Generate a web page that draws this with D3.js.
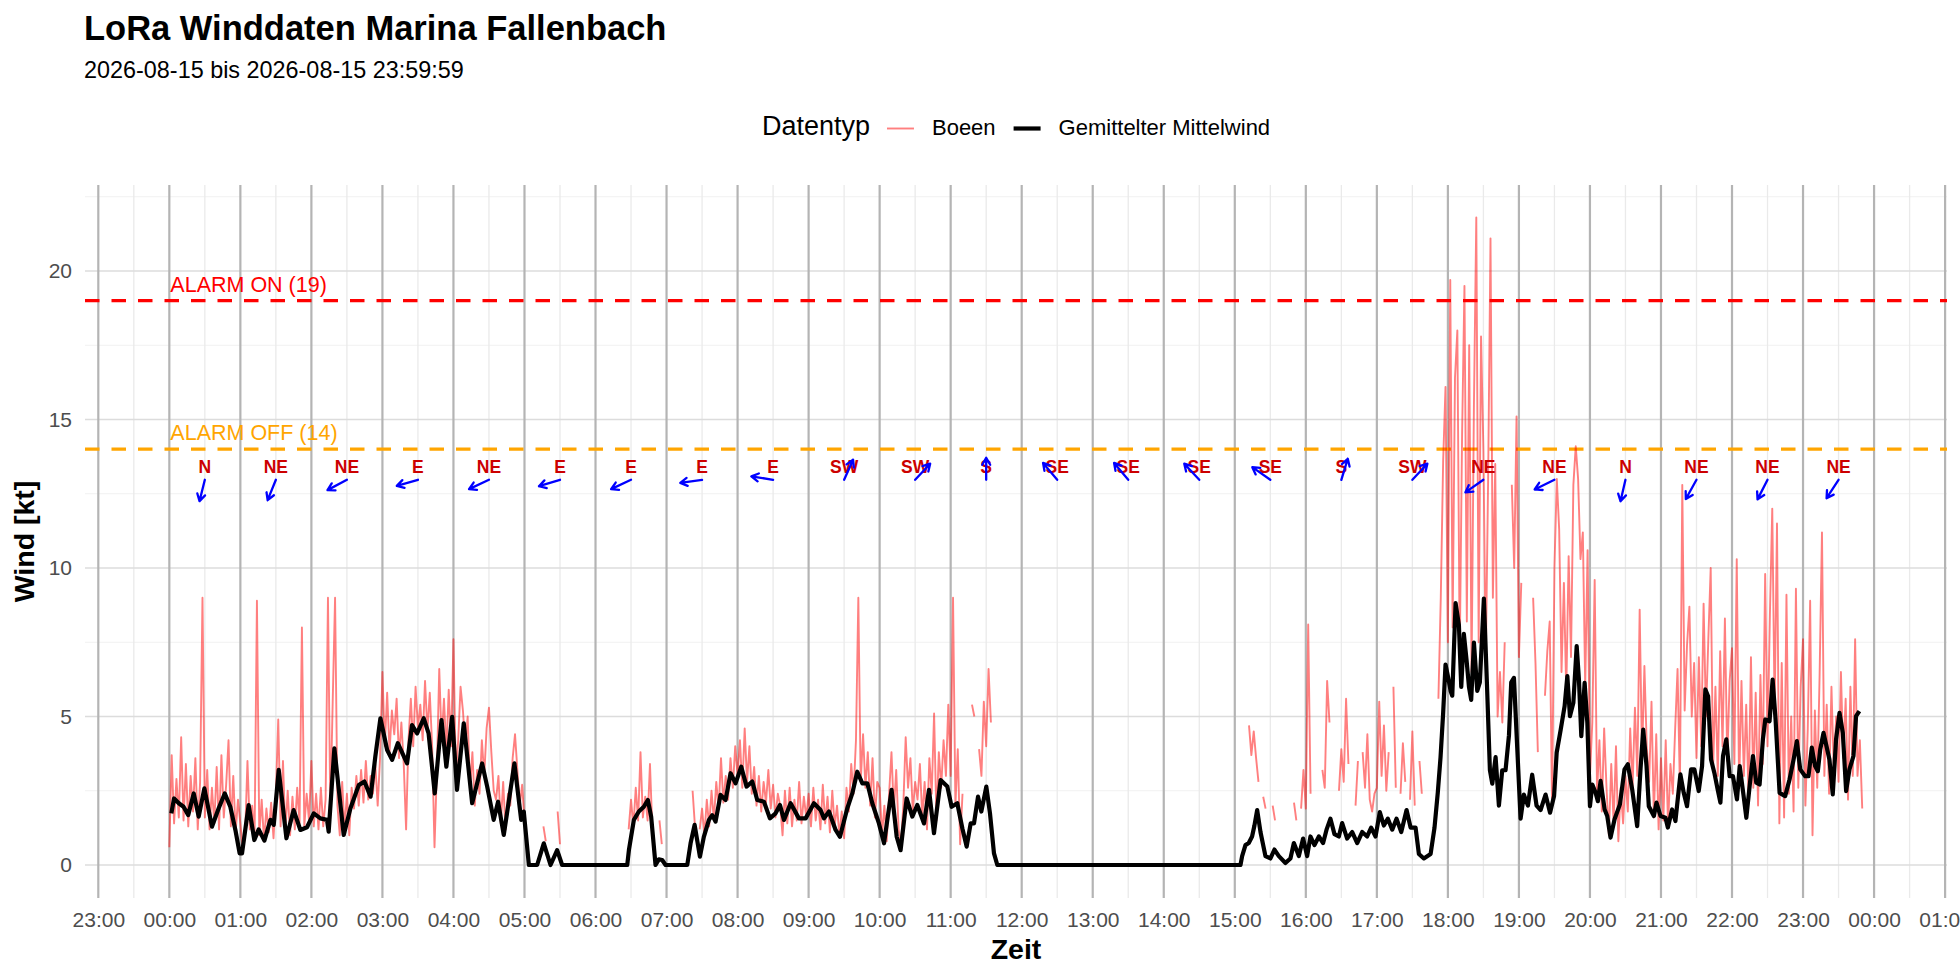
<!DOCTYPE html>
<html>
<head>
<meta charset="utf-8">
<title>LoRa Winddaten Marina Fallenbach</title>
<script src="https://cdn.jsdelivr.net/npm/d3@7"></script>
<style>
  html, body { margin: 0; padding: 0; background: #fff; }
  svg { display: block; font-family: "Liberation Sans", Arial, Helvetica, sans-serif; }
</style>
</head>
<body>
<svg id="chart" width="1960" height="980"></svg>
<script>
var NA = null;

// ---- data -----------------------------------------------------------------
var titleText = "LoRa Winddaten Marina Fallenbach",
    subtitleText = "2026-08-15 bis 2026-08-15 23:59:59",
    legendTitle = "Datentyp",
    seriesNames = ["Boeen", "Gemittelter Mittelwind"];

var alarmOn = 19,
    alarmOff = 14;

var yTicks = [0, 5, 10, 15, 20],
    yMinor = [2.5, 7.5, 12.5, 17.5, 22.5];

var xTickLabels = ["23:00", "00:00", "01:00", "02:00", "03:00", "04:00", "05:00",
    "06:00", "07:00", "08:00", "09:00", "10:00", "11:00", "12:00", "13:00", "14:00",
    "15:00", "16:00", "17:00", "18:00", "19:00", "20:00", "21:00", "22:00", "23:00",
    "00:00", "01:00"];

// gusts [kt], one value every 2 minutes from 00:00, one row per hour
var gustStepMin = 2;
var gustKt = [
    0.6, 3.7, 1.4, 2.9, 1.6, 4.3, 1.5, 3.4, 1.3, 3.0, 1.8, 3.6, 1.2, 2.8, 9.0, 1.6, 3.2, 1.2, 2.6, 1.4, 3.3, 1.2, 3.7, 1.6, 2.7, 4.2, 1.3, 3.0, 1.1, 2.2, // 00
    1.4, 0.5, 1.0, 3.5, 1.2, 2.0, 0.9, 8.9, 1.0, 2.2, 0.8, 1.9, 1.1, 2.1, 0.9, 2.4, 4.9, 1.3, 3.5, 1.1, 2.5, 1.0, 2.3, 1.2, 2.6, 1.4, 8.0, 1.3, 2.4, 1.5, // 01
    3.5, 1.3, 2.4, 1.2, 2.6, 1.3, 2.2, 9.0, 1.8, 5.5, 9.0, 2.0, 1.0, 2.8, 1.2, 2.4, 1.0, 2.6, 1.9, 3.0, 2.0, 3.2, 2.1, 3.5, 2.2, 3.0, 2.4, 3.4, 2.0, 3.6, // 02
    6.5, 4.0, 5.8, 3.8, 5.2, 4.4, 5.6, 3.6, 4.8, 3.4, 1.2, 4.2, 5.6, 4.0, 6.0, 4.6, 5.4, 4.2, 6.2, 4.5, 5.8, 4.0, 0.6, 3.2, 6.6, 4.2, 5.6, 3.8, 5.9, 4.0, // 03
    7.6, 3.0, 4.2, 6.0, 5.2, 4.0, 5.0, 2.6, 3.8, 2.0, 3.2, 2.4, 4.2, 3.0, 4.6, 5.3, 3.8, 2.5, 2.2, 3.0, 1.4, 2.8, 1.2, 2.4, 2.0, 3.6, 4.4, 3.2, 2.0, 2.7, // 04
    1.5, 0.7, NA, NA, NA, NA, NA, NA, 1.3, 0.8, NA, NA, NA, NA, 1.8, 0.7, NA, NA, NA, NA, NA, NA, NA, NA, NA, NA, NA, NA, NA, NA, // 05
    NA, NA, NA, NA, NA, NA, NA, NA, NA, NA, NA, NA, NA, NA, 1.2, 2.2, 1.3, 2.6, 1.5, 3.8, 1.6, 2.3, 1.5, 3.4, 1.2, NA, NA, 1.5, 0.7, NA, // 06
    NA, NA, NA, NA, NA, NA, NA, NA, NA, NA, NA, 2.5, 1.3, NA, 1.2, 1.9, 1.0, 2.2, 1.3, 2.5, 1.5, 2.8, 1.9, 3.6, 2.1, 3.0, 2.2, 3.6, 2.6, 4.0, // 07
    3.0, 4.2, 2.6, 4.6, 2.8, 4.0, 2.4, 3.3, 2.0, 3.0, 1.8, 2.8, 2.1, 3.2, 1.9, 2.7, 1.6, 2.4, 2.0, 1.0, 2.5, 1.4, 2.6, 1.3, 2.2, 1.5, 2.8, 1.4, 2.3, 1.6, // 08
    2.4, 1.3, 2.6, 1.5, 2.2, 1.2, 2.7, 1.4, 2.3, 1.1, 2.5, 1.3, 2.0, 1.0, 1.8, 0.9, 2.6, 1.8, 3.4, 2.4, 4.2, 9.0, 2.8, 4.4, 2.6, 3.8, 2.0, 3.6, 1.6, 2.8, // 09
    2.6, 1.0, 2.0, 0.8, 2.4, 3.8, 1.8, 3.2, 1.2, 0.7, 2.0, 4.3, 2.6, 3.6, 1.8, 2.8, 2.2, 3.4, 1.6, 2.8, 1.2, 3.6, 2.4, 5.1, 1.5, 3.8, 2.6, 4.2, 3.0, 5.4, // 10
    3.0, 9.0, 2.0, 3.9, 0.7, 2.4, NA, NA, NA, 5.4, 5.0, NA, 3.9, 3.0, 5.5, 4.0, 6.6, 4.8, NA, NA, NA, NA, NA, NA, NA, NA, NA, NA, NA, NA, // 11
    NA, NA, NA, NA, NA, NA, NA, NA, NA, NA, NA, NA, NA, NA, NA, NA, NA, NA, NA, NA, NA, NA, NA, NA, NA, NA, NA, NA, NA, NA, // 12
    NA, NA, NA, NA, NA, NA, NA, NA, NA, NA, NA, NA, NA, NA, NA, NA, NA, NA, NA, NA, NA, NA, NA, NA, NA, NA, NA, NA, NA, NA, // 13
    NA, NA, NA, NA, NA, NA, NA, NA, NA, NA, NA, NA, NA, NA, NA, NA, NA, NA, NA, NA, NA, NA, NA, NA, NA, NA, NA, NA, NA, NA, // 14
    NA, NA, NA, NA, NA, NA, 4.7, 3.7, 4.5, 3.6, 2.8, NA, 2.3, 1.9, NA, NA, 2.0, 1.5, NA, NA, NA, NA, NA, NA, NA, 2.1, 1.5, NA, 1.9, 3.2, // 15
    1.9, 8.1, 2.4, NA, NA, NA, NA, 3.2, 2.6, 6.2, 4.8, NA, NA, NA, 2.5, 3.9, 2.8, 5.6, 3.4, NA, NA, 2.0, 3.5, NA, 3.8, 2.6, 4.4, 2.2, 1.8, 2.4, // 16
    2.6, 5.5, 3.0, 4.7, 2.5, 3.8, NA, 6.0, 2.6, NA, 2.4, 4.1, 2.8, NA, 2.2, 4.5, 2.0, NA, 3.5, 2.4, NA, NA, NA, NA, NA, NA, 5.6, 9.0, 13.6, 16.1, // 17
    7.5, 19.7, 8.0, 16.4, 18.0, 7.0, 14.5, 19.5, 8.2, 17.5, 6.5, 15.5, 21.8, 7.5, 17.8, 14.0, 6.8, 13.0, 21.1, 9.0, 13.5, 5.0, 6.5, 4.8, 7.5, NA, NA, 12.8, 10.0, 15.1, // 18
    7.0, 9.5, NA, NA, NA, NA, 9.0, 6.8, 3.8, NA, NA, 5.7, 7.2, 8.2, 2.0, 10.0, 13.0, 11.3, 6.5, 9.5, 5.8, 10.4, 7.0, 12.8, 14.1, 13.0, 10.3, 11.2, 6.0, 10.6, // 19
    3.0, 4.8, 9.6, 2.4, 4.2, 1.8, 4.6, 2.6, 1.0, 3.4, 1.4, 4.0, 0.8, 2.6, 1.4, 3.0, 1.8, 4.6, 2.6, 5.3, 3.0, 8.6, 3.6, 6.7, 4.0, 2.8, 5.5, 1.6, 4.4, 1.2, // 20
    3.6, 1.5, 4.2, 1.3, 3.4, 2.4, 4.6, 6.6, 2.6, 12.8, 5.2, 7.4, 8.7, 5.0, 6.8, 3.6, 7.0, 4.0, 8.8, 5.0, 7.6, 10.0, 3.2, 6.0, 3.0, 7.2, 4.0, 8.3, 3.5, 6.2, // 21
    7.3, 3.4, 10.3, 2.6, 6.2, 3.0, 5.4, 2.2, 7.0, 2.6, 5.8, 2.0, 6.4, 3.4, 9.8, 4.0, 8.4, 12.0, 5.2, 11.5, 1.4, 6.8, 1.6, 9.1, 2.4, 5.0, 1.8, 9.3, 2.6, 6.0, // 22
    7.6, 2.0, 4.6, 8.9, 1.0, 5.2, 2.6, 6.4, 11.2, 3.0, 5.4, 2.4, 6.0, 3.2, 5.0, 2.8, 6.5, 3.6, 5.6, 2.2, 6.0, 3.0, 7.6, 3.0, 4.2, 1.9, NA, NA, NA, NA  // 23
];

// averaged mean wind: minute of day / value [kt]
var meanMin = [
    1.7, 4, 8, 12, 16, 20.6, 24.8, 29.6, 36, 41.7, 46.8, 51.5, 55.8, 59.4, 61.4, 67, 71.8, 75.5, 80.3, 85.4,
    88.2, 92.4, 98.9, 105, 110.7, 116.3, 122, 127.6, 133.2, 134.6, 139.4, 147.3, 153, 160, 164.8, 170, 174, 178.3, 184, 188.2,
    193, 200.8, 205, 209.3, 214.9, 219, 224.2, 229.9, 234, 238.9, 243, 248.7, 255.8, 264.2, 268.5, 274, 277.7, 282.5, 291.5, 297.2,
    299.4, 303.7, 310.7, 316.3, 322, 327.6, 331.8, 386.8, 388.2, 392.4, 396.6, 400.8, 404.2, 407, 410.7, 413.5, 416.3, 419.2, 437.5, 440.3,
    443.7, 448.2, 451.5, 455.8, 458.6, 461.4, 465.6, 469.9, 474.1, 478.3, 483.1, 487.6, 492.4, 496.6, 502.3, 507.3, 512.1, 515.8, 519.2, 524.8,
    531.8, 537.5, 544.5, 550.1, 553, 557.2, 562.8, 566.5, 572.7, 576.9, 581.1, 585.4, 589.6, 593.8, 599.4, 603.7, 610.1, 614.4, 617.7, 622.8,
    627.6, 631.8, 637.5, 641.7, 645.9, 651.5, 657.2, 660.8, 665.6, 669.9, 673.5, 676.9, 679.7, 683.1, 685.9, 690.1, 693.2, 696.6, 699.4, 904.8,
    906.2, 909, 911.8, 914.6, 916.6, 918.9, 921.7, 925.9, 930.1, 933.5, 937.2, 942.8, 947, 949.9, 954.1, 957.7, 961.1, 963.9, 967.3, 971,
    974.6, 977.5, 980.8, 984.2, 987.9, 990.7, 994.9, 999.2, 1003.4, 1007.6, 1011.8, 1015.2, 1018.9, 1022.5, 1025.9, 1029.3, 1033, 1036.6, 1040.6, 1045.1,
    1048.5, 1052.7, 1055.5, 1059.7, 1065.4, 1068.7, 1071.5, 1073.8, 1076, 1078, 1080.3, 1082.3, 1083.7, 1086.5, 1089.3, 1091.3, 1093.5, 1095.8, 1097.8, 1099.7,
    1102, 1104.8, 1107, 1110.4, 1113.2, 1115.5, 1117.5, 1120.3, 1123.1, 1125.9, 1128.7, 1131.6, 1133.5, 1135.8, 1138.6, 1141.4, 1144.2, 1147.6, 1151.2, 1154.9,
    1158.3, 1162.5, 1166.3, 1169.7, 1171.9, 1175.3, 1178.6, 1180.9, 1183.1, 1186, 1188.8, 1190.7, 1192.7, 1195.5, 1197.8, 1200, 1202, 1204.8, 1206.7, 1209,
    1212.4, 1214.6, 1217.4, 1220.8, 1225.3, 1229.2, 1232, 1235.7, 1239.9, 1242.7, 1245, 1247.8, 1249.7, 1254, 1256.2, 1259.6, 1263.8, 1265.8, 1269.4, 1272.2,
    1276.4, 1279.2, 1282, 1285.4, 1288.2, 1291.9, 1294.7, 1297.5, 1299.8, 1302.3, 1305.1, 1307.9, 1310.2, 1312.4, 1315.2, 1318, 1320.8, 1324.2, 1326.5, 1329.8,
    1332.1, 1334.9, 1337.7, 1340.5, 1343.3, 1346.1, 1348.1, 1351.7, 1354.3, 1356.8, 1360.2, 1364.9, 1368.6, 1372, 1374.8, 1377.6, 1381.8, 1384.6, 1387.4, 1390.2,
    1392.5, 1394.5, 1397.3, 1400.1, 1402.3, 1405.1, 1407.9, 1410.8, 1413.6, 1416.4, 1419.2, 1422.6, 1424.8, 1427.6
];
var meanKt = [
    1.74, 2.24, 2.08, 1.96, 1.68, 2.41, 1.63, 2.58, 1.29, 1.91, 2.41, 1.96, 1.18, 0.39, 0.39, 2.02, 0.84, 1.2, 0.82, 1.52,
    1.35, 3.2, 0.9, 1.85, 1.18, 1.27, 1.74, 1.57, 1.52, 1.12, 3.93, 1.01, 1.91, 2.69, 2.81, 2.3, 3.65, 4.94, 3.87, 3.54,
    4.1, 3.42, 4.71, 4.43, 4.94, 4.43, 2.41, 4.88, 3.31, 4.99, 2.53, 4.77, 2.08, 3.42, 2.64, 1.52, 2.13, 1.01, 3.42, 1.52,
    1.8, 0, 0, 0.73, 0, 0.5, 0, 0, 0.5, 1.52, 1.8, 1.96, 2.19, 1.63, 0, 0.19, 0.17, 0, 0, 0.73,
    1.35, 0.28, 0.95, 1.52, 1.68, 1.46, 2.36, 2.19, 3.09, 2.75, 3.31, 2.64, 2.81, 2.19, 2.13, 1.57, 1.74, 2.02, 1.52, 2.08,
    1.57, 1.57, 2.08, 1.85, 1.57, 1.8, 1.18, 0.95, 1.91, 2.41, 3.14, 2.75, 2.75, 2.08, 1.4, 0.73, 2.53, 0.95, 0.5, 2.24,
    1.63, 2.02, 1.4, 2.53, 1.07, 2.86, 2.64, 1.96, 2.08, 1.23, 0.62, 1.4, 1.4, 2.3, 1.8, 2.64, 1.74, 0.39, 0, 0,
    0.3, 0.67, 0.74, 0.96, 1.33, 1.85, 1.11, 0.3, 0.22, 0.52, 0.3, 0.07, 0.22, 0.74, 0.3, 0.89, 0.3, 0.96, 0.67, 0.96,
    0.74, 1.19, 1.56, 1.04, 0.96, 1.41, 0.89, 1.11, 0.74, 1.11, 0.96, 1.26, 0.96, 1.78, 1.33, 1.56, 1.19, 1.56, 1.11, 1.85,
    1.26, 1.26, 0.37, 0.22, 0.37, 1.26, 2.45, 3.63, 5.11, 6.75, 6.3, 5.86, 5.7, 8.82, 8.08, 6.0, 7.78, 6.89, 6.0, 5.56,
    7.49, 5.86, 6.15, 8.97, 5.86, 3.19, 2.74, 3.63, 2.0, 3.19, 3.19, 4.37, 6.15, 6.3, 3.93, 1.56, 2.37, 2.0, 3.04, 2.0,
    1.85, 2.37, 1.76, 2.32, 3.78, 4.56, 5.35, 6.36, 5.01, 5.46, 7.37, 6.24, 4.34, 6.13, 4.79, 1.98, 2.71, 2.43, 2.15, 2.83,
    1.87, 1.65, 0.92, 1.54, 2.04, 3.22, 3.39, 2.54, 1.31, 3.22, 4.56, 3.33, 1.98, 1.65, 2.1, 1.65, 1.59, 1.26, 1.87, 1.48,
    3.05, 2.43, 1.98, 3.22, 3.22, 2.49, 3.33, 5.91, 5.68, 3.55, 3.1, 2.54, 2.1, 3.67, 4.23, 2.99, 2.99, 2.21, 3.33, 2.32,
    1.59, 2.66, 3.67, 2.77, 2.71, 4.23, 4.9, 4.84, 6.24, 4.9, 2.43, 2.32, 2.88, 3.55, 4.17, 3.22, 2.99, 2.99, 3.95, 3.33,
    3.16, 3.89, 4.45, 3.95, 3.55, 2.38, 4.23, 5.12, 4.45, 2.49, 3.22, 3.67, 5.01, 5.18
];

// hourly wind direction (label and mean "from" direction in degrees), shown at hh:30
var dirLabels = ["N", "NE", "NE", "E", "NE", "E", "E", "E", "E", "SW", "SW", "S",
                 "SE", "SE", "SE", "SE", "S", "SW", "NE", "NE", "N", "NE", "NE", "NE"];
var dirDeg = [14, 22, 62, 74, 65, 73, 65, 82, 99, 204, 223, 180,
              140, 140, 137, 125, 197, 223, 55, 64, 13, 29, 27, 33];


// ---- layout ---------------------------------------------------------------
var panel = { left: 85, right: 1947, top: 185, bottom: 898 },
    colors = { gust: "#FF0000", mean: "#000000", on: "#FF0000", off: "#FFA500",
               arrow: "#0000FF", dirText: "#CC0000", tick: "#4D4D4D" },
    font = '"Liberation Sans", Arial, Helvetica, sans-serif';

var day0 = new Date(2026, 7, 15, 0, 0, 0);
var at = function(min) { return new Date(day0.getTime() + min * 60000); };

var x = d3.scaleTime()
    .domain([at(-60), at(25 * 60)])
    .range([98.3, 1945.1]);

var y = d3.scaleLinear()
    .domain([0, 20])
    .range([865, 271]);

var svg = d3.select("#chart");
svg.append("rect").attr("width", 1960).attr("height", 980).attr("fill", "#fff");


// ---- grid -----------------------------------------------------------------
var grid = svg.append("g").attr("class", "grid");

grid.selectAll(".y-minor").data(yMinor).enter().append("line")
    .attr("x1", panel.left).attr("x2", panel.right)
    .attr("y1", function(d) { return y(d); }).attr("y2", function(d) { return y(d); })
    .attr("stroke", "#F1F1F1").attr("stroke-width", 1.1);

var xTimes = xTickLabels.map(function(d, i) { return at((i - 1) * 60); }),
    xHalf = xTimes.slice(0, -1).map(function(d) { return new Date(d.getTime() + 30 * 60000); });

grid.selectAll(".x-minor").data(xHalf).enter().append("line")
    .attr("y1", panel.top).attr("y2", panel.bottom)
    .attr("x1", function(d) { return x(d); }).attr("x2", function(d) { return x(d); })
    .attr("stroke", "#EAEAEA").attr("stroke-width", 1.3);

grid.selectAll(".y-major").data(yTicks).enter().append("line")
    .attr("x1", panel.left).attr("x2", panel.right)
    .attr("y1", function(d) { return y(d); }).attr("y2", function(d) { return y(d); })
    .attr("stroke", "#DCDCDC").attr("stroke-width", 1.4);

grid.selectAll(".x-major").data(xTimes).enter().append("line")
    .attr("y1", panel.top).attr("y2", panel.bottom)
    .attr("x1", function(d) { return x(d); }).attr("x2", function(d) { return x(d); })
    .attr("stroke", "#B4B4B4").attr("stroke-width", 2.2);


// ---- alarm thresholds -----------------------------------------------------
[{ v: alarmOn, c: colors.on, t: "ALARM ON (" + alarmOn + ")" },
 { v: alarmOff, c: colors.off, t: "ALARM OFF (" + alarmOff + ")" }].forEach(function(a) {
    svg.append("line")
        .attr("x1", panel.left).attr("x2", panel.right)
        .attr("y1", y(a.v)).attr("y2", y(a.v))
        .attr("stroke", a.c).attr("stroke-width", 3.3)
        .attr("stroke-dasharray", "14.5 12");
    svg.append("text")
        .attr("x", x(at(0)) + 1).attr("y", y(a.v) - 9)
        .attr("fill", a.c).attr("font-size", 21.5)
        .text(a.t);
});


// ---- series ---------------------------------------------------------------
var gustData = gustKt.map(function(v, i) { return { t: at(i * gustStepMin), v: v }; }),
    meanData = meanMin.map(function(m, i) { return { t: at(m), v: meanKt[i] }; });

var line = d3.line()
    .defined(function(d) { return d.v !== null; })
    .x(function(d) { return x(d.t); })
    .y(function(d) { return y(d.v); });

svg.append("path")
    .datum(gustData)
    .attr("d", line)
    .attr("fill", "none")
    .attr("stroke", colors.gust).attr("stroke-opacity", 0.5)
    .attr("stroke-width", 1.9)
    .attr("stroke-linejoin", "round");

svg.append("path")
    .datum(meanData)
    .attr("d", line)
    .attr("fill", "none")
    .attr("stroke", colors.mean)
    .attr("stroke-width", 4.2)
    .attr("stroke-linejoin", "round")
    .attr("stroke-linecap", "butt");


// ---- wind direction arrows ------------------------------------------------
var arrowLen = 22,
    headLen = 8,
    headAngle = 30 * Math.PI / 180,
    arrowKt = 12.97,
    labelKt = 13.42;

var dirs = svg.append("g").attr("class", "directions");

dirDeg.forEach(function(deg, i) {
    var cx = x(at(i * 60 + 30)),
        cy = y(arrowKt),
        h = (deg + 180) * Math.PI / 180,
        hx = cx + arrowLen * Math.sin(h),
        hy = cy - arrowLen * Math.cos(h),
        back = Math.atan2(cy - hy, cx - hx);

    dirs.append("text")
        .attr("x", cx).attr("y", y(labelKt))
        .attr("dy", "0.36em")
        .attr("text-anchor", "middle")
        .attr("font-size", 17.5).attr("font-weight", "bold")
        .attr("fill", colors.dirText)
        .text(dirLabels[i]);

    dirs.append("path")
        .attr("d", "M" + cx + "," + cy + "L" + hx + "," + hy +
            "M" + (hx + headLen * Math.cos(back + headAngle)) + "," + (hy + headLen * Math.sin(back + headAngle)) +
            "L" + hx + "," + hy +
            "L" + (hx + headLen * Math.cos(back - headAngle)) + "," + (hy + headLen * Math.sin(back - headAngle)))
        .attr("fill", "none")
        .attr("stroke", colors.arrow).attr("stroke-width", 2.3)
        .attr("stroke-linecap", "round").attr("stroke-linejoin", "round");
});


// ---- axes -----------------------------------------------------------------
var xAxis = d3.axisBottom(x)
    .tickValues(xTimes)
    .tickFormat(function(d, i) { return xTickLabels[i]; })
    .tickSize(0).tickPadding(14);

svg.append("g")
    .attr("transform", "translate(0," + panel.bottom + ")")
    .call(xAxis)
    .call(function(g) { g.select(".domain").remove(); })
    .selectAll("text")
        .attr("font-family", font).attr("font-size", 21)
        .attr("fill", colors.tick);

var yAxis = d3.axisLeft(y)
    .tickValues(yTicks)
    .tickSize(0).tickPadding(13);

svg.append("g")
    .attr("transform", "translate(" + panel.left + ",0)")
    .call(yAxis)
    .call(function(g) { g.select(".domain").remove(); })
    .selectAll("text")
        .attr("font-family", font).attr("font-size", 21)
        .attr("fill", colors.tick);

svg.append("text")
    .attr("x", (panel.left + panel.right) / 2).attr("y", 959)
    .attr("text-anchor", "middle")
    .attr("font-size", 28.5).attr("font-weight", "bold")
    .text("Zeit");

svg.append("text")
    .attr("transform", "translate(34," + (panel.top + panel.bottom) / 2 + ") rotate(-90)")
    .attr("text-anchor", "middle")
    .attr("font-size", 28.5).attr("font-weight", "bold")
    .text("Wind [kt]");


// ---- titles ---------------------------------------------------------------
svg.append("text")
    .attr("x", 84).attr("y", 40)
    .attr("font-size", 34.5).attr("font-weight", "bold")
    .text(titleText);

svg.append("text")
    .attr("x", 84).attr("y", 78)
    .attr("font-size", 23.4)
    .text(subtitleText);


// ---- legend ---------------------------------------------------------------
var legend = svg.append("g").attr("class", "legend"),
    keyW = 27,
    cursor = 0;

var lt = legend.append("text")
    .attr("x", cursor).attr("y", 135)
    .attr("font-size", 27)
    .text(legendTitle);
cursor += lt.node().getComputedTextLength() + 17;

[{ name: seriesNames[0], c: colors.gust, o: 0.5, w: 1.9 },
 { name: seriesNames[1], c: colors.mean, o: 1, w: 4.2 }].forEach(function(s) {
    legend.append("line")
        .attr("x1", cursor).attr("x2", cursor + keyW)
        .attr("y1", 128.5).attr("y2", 128.5)
        .attr("stroke", s.c).attr("stroke-opacity", s.o).attr("stroke-width", s.w);
    cursor += keyW + 18;
    var t = legend.append("text")
        .attr("x", cursor).attr("y", 135)
        .attr("font-size", 22)
        .text(s.name);
    cursor += t.node().getComputedTextLength() + 18;
});
cursor -= 18;

legend.attr("transform", "translate(" + ((panel.left + panel.right) / 2 - cursor / 2) + ",0)");
</script>
</body>
</html>
